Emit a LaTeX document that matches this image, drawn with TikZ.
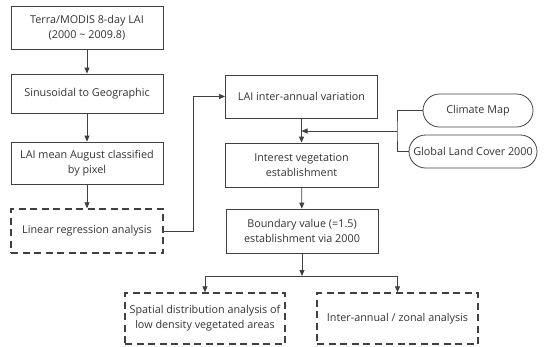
\documentclass[tikz,border=0pt]{standalone}
\usepackage{fontspec}
\setmainfont{Open Sans}
\usetikzlibrary{arrows.meta,shapes.misc}
\definecolor{ln}{HTML}{404040}
\definecolor{tx}{HTML}{333333}
\begin{document}
\begin{tikzpicture}[x=1pt,y=-1pt,
  font=\fontsize{10.8}{15}\selectfont, text=tx,
  box/.style={draw=ln, line width=0.8pt, align=center, inner sep=0pt, minimum width=152pt, minimum height=43pt},
  dbox/.style={box, line width=1.4pt, dash pattern=on 7pt off 4.5pt},
  pill/.style={draw=ln, line width=0.8pt, rounded rectangle, inner sep=0pt, minimum height=33pt},
  conn/.style={draw=ln, line width=0.8pt},
  arr/.style={conn, -{Triangle[length=6pt,width=5pt]}}]
\useasboundingbox (0,0) rectangle (549,346);
\node[box] (n1) at (87,27.5) {Terra/MODIS 8-day LAI\\(2000 \textasciitilde{} 2009.8)};
\node[box, minimum height=39pt] (n2) at (87,93.5) {Sinusoidal to Geographic};
\node[box, minimum height=42pt] (n3) at (87,163) {LAI mean August classified\\by pixel};
\node[dbox, minimum height=44pt] (n4) at (87,231) {Linear regression analysis};
\node[box] (n5) at (301.5,96.5) {LAI inter-annual variation};
\node[box, minimum width=153pt, minimum height=44pt] (n6) at (301.5,165) {Interest vegetation\\establishment};
\node[box, minimum height=44pt] (n7) at (302,231) {Boundary value (=1.5)\\establishment via 2000};
\node[dbox, minimum width=160pt, minimum height=51pt] (n8) at (205,318.5) {Spatial distribution analysis of\\low density vegetated areas};
\node[dbox, minimum width=161pt, minimum height=51pt] (n9) at (397.5,318.5) {Inter-annual / zonal analysis};
\node[pill, minimum width=110pt] (cm) at (478,110.5) {Climate Map};
\node[pill, minimum width=128pt] (gl) at (473,151.5) {Global Land Cover 2000};
\coordinate (jx) at (397,131);
\coordinate (jm) at (301.5,131);
\coordinate (sp) at (302,276);
\draw[arr] (n1) -- (n2);
\draw[arr] (n2) -- (n3);
\draw[arr] (n3) -- (n4);
\draw[arr] (n4.east) -- ++(30,0) |- (n5.west);
\draw[arr] (n5) -- (n6);
\draw[conn] (cm.west) -| (jx) |- (gl.west);
\draw[arr] (jx) -- (jm);
\draw[arr] (n6) -- (n7);
\draw[arr] (n7.south) -- (sp);
\draw[arr] (sp) -| (n8.north);
\draw[arr] (sp) -| (n9.north);
\end{tikzpicture}
\end{document}
